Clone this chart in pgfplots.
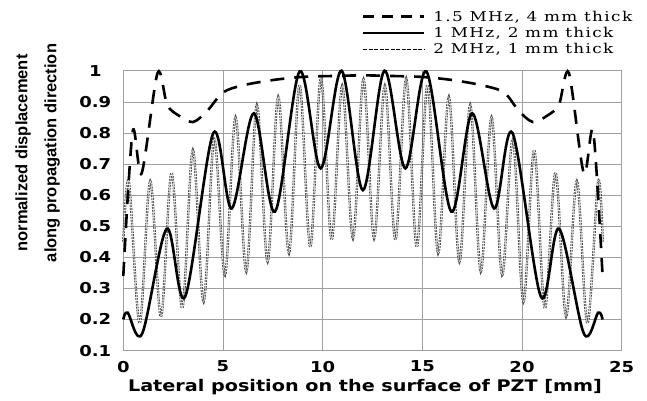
\documentclass[border=0pt]{standalone}
\usepackage{fontspec}
\setmainfont{DejaVu Serif}
\newfontfamily\ticksans[FakeStretch=1.2]{DejaVu Sans}
\newfontfamily\ylabsans{Liberation Sans}
\newfontfamily\legserif[FakeStretch=1.25,LetterSpace=10]{DejaVu Serif}
\usepackage{pgfplots}
\pgfplotsset{compat=1.18}

\begin{document}
\begin{tikzpicture}
\begin{axis}[
  scale only axis,
  width=498.4pt, height=279.9pt,
  xmin=0, xmax=25, ymin=0.1, ymax=1,
  xtick={0,5,10,15,20,25},
  ytick={0.1,0.2,0.3,0.4,0.5,0.6,0.7,0.8,0.9,1},
  major tick length=0pt,
  grid=major,
  major grid style={line width=0.6pt, draw=gray!75},
  axis line style={line width=0.6pt, draw=gray!75},
  /pgf/number format/assume math mode=true,
  /pgf/number format/fixed,
  tick label style={font=\ticksans\bfseries\fontsize{15}{15}\selectfont},
  yticklabel style={anchor=center, inner sep=0pt, xshift=-28pt},
  xticklabel style={anchor=center, inner sep=0pt, yshift=-16pt},
  xlabel={Lateral position on the surface of PZT [mm]},
  xlabel style={font=\ticksans\bfseries\fontsize{16}{16}\selectfont,
    at={(axis description cs:0.485,0)}, anchor=center, yshift=-36pt},
  ylabel={normalized displacement\\along propagation direction},
  ylabel style={font=\ylabsans\bfseries\fontsize{16.5}{29}\selectfont,
    align=center, at={(axis description cs:-0.172,0.706)}, anchor=center},
  legend style={draw=none, fill=none, inner sep=0pt,
    at={(axis description cs:0.478,1.222)}, anchor=north west,
    font=\legserif\fontsize{13.5}{13.5}\selectfont, row sep=0.5pt,
    cells={anchor=west},
    /tikz/every odd column/.append style={column sep=6pt}},
  legend image code/.code={\draw[#1] (0pt,0pt) -- (61pt,0pt);},
  clip=false,
]
\addlegendimage{black, line width=2.4pt, dash pattern=on 11pt off 8pt}
\addlegendentry{1.5 MHz, 4 mm thick}
\addlegendimage{black, line width=2.6pt}
\addlegendentry{1 MHz, 2 mm thick}
\addlegendimage{black, line width=1pt, dash pattern=on 4pt off 1.5pt}
\addlegendentry{2 MHz, 1 mm thick}

% 2 MHz, 1 mm thick
\addplot[forget plot, smooth, tension=0.55, black!70, line width=0.95pt,
  double=white, double distance=0.5pt,
  dash pattern=on 1.8pt off 1.1pt] coordinates {
  (0,0.45) (0.28,0.643) (0.82,0.188) (1.35,0.645) (1.89,0.209)
  (2.42,0.672) (2.96,0.236) (3.49,0.745) (4.03,0.257) (4.56,0.78)
  (5.10,0.343) (5.63,0.85) (6.17,0.354) (6.70,0.89) (7.24,0.386)
  (7.77,0.916) (8.31,0.413) (8.84,0.954) (9.38,0.433) (9.91,0.975)
  (10.45,0.456) (10.98,0.952) (11.52,0.46) (12.05,0.972) (12.58,0.46)
  (13.12,0.952) (13.65,0.456) (14.19,0.975) (14.72,0.433) (15.26,0.954)
  (15.79,0.413) (16.33,0.916) (16.86,0.386) (17.40,0.89) (17.93,0.354)
  (18.47,0.85) (19.00,0.343) (19.54,0.78) (20.07,0.257) (20.61,0.745)
  (21.14,0.236) (21.68,0.672) (22.21,0.209) (22.75,0.645) (23.28,0.188)
  (23.82,0.643) (24.05,0.45)
};

% 1 MHz, 2 mm thick
\addplot[forget plot, smooth, tension=0.55, black, line width=2.6pt] coordinates {
  (0,0.20) (0.22,0.222) (0.95,0.155) (2.18,0.492) (3.1,0.273)
  (4.52,0.80) (5.44,0.557) (6.55,0.863) (7.61,0.547) (8.85,0.998)
  (9.9,0.686) (10.95,1.0) (12.02,0.616) (13.1,1.0) (14.15,0.686)
  (15.2,0.998) (16.45,0.547) (17.5,0.863) (18.6,0.557) (19.52,0.80)
  (20.95,0.273) (21.86,0.492) (23.1,0.155) (23.82,0.222) (24.04,0.20)
};

% 1.5 MHz, 4 mm thick
\addplot[forget plot, smooth, tension=0.5, draw=black, line width=2.6pt,
  line cap=butt, dash pattern=on 14pt off 10pt] coordinates {
  (0,0.34) (0.47,0.805) (0.92,0.67) (1.72,0.993) (2.2,0.89) (2.8,0.855)
  (3.5,0.835) (4.2,0.87) (5.0,0.93) (6.0,0.953) (7.5,0.97) (9.0,0.98)
  (10.5,0.983) (12.03,0.985) (13.5,0.983) (15.0,0.98) (16.5,0.97)
  (18.0,0.953) (19.1,0.93) (19.85,0.87) (20.55,0.835) (21.25,0.855)
  (21.85,0.89) (22.35,0.993) (23.1,0.67) (23.57,0.805) (24.04,0.34)
};

\coordinate (bl) at (rel axis cs:0,0);
\end{axis}
\pgfresetboundingbox
\path[use as bounding box] (bl) ++(-123.3pt,-50.4pt) rectangle ++(647pt,401pt);
\end{tikzpicture}
\end{document}
